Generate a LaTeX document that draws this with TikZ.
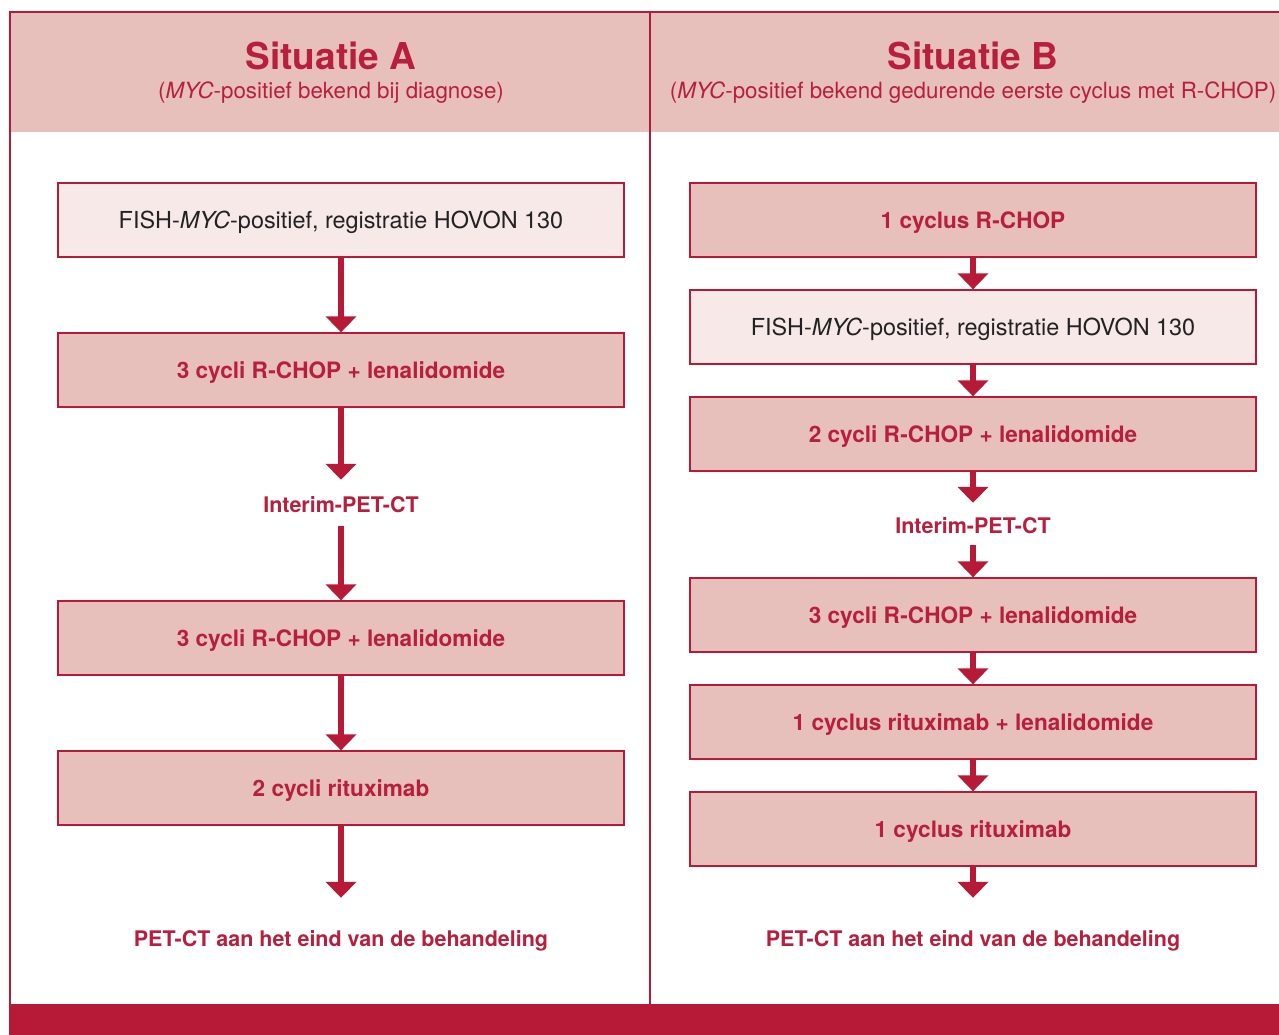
\documentclass[tikz,border=0pt]{standalone}
\usepackage{fontspec}
\setmainfont{TeX Gyre Heros}
\usetikzlibrary{arrows.meta}
\definecolor{crim}{HTML}{B71A36}
\definecolor{crimtext}{HTML}{B81F3E}
\definecolor{hdrfill}{HTML}{E7C0BB}
\definecolor{lightfill}{HTML}{F7E9E8}
\definecolor{dark}{HTML}{222222}
\tikzset{
  boxbase/.style={draw=crim, line width=1.3pt, minimum width=566pt, minimum height=74pt, inner sep=0pt, anchor=center, text depth=0pt},
  redbox/.style={boxbase, fill=hdrfill, text=crimtext, text height=16.2pt, font=\fontsize{22.6}{26}\selectfont\bfseries},
  lightbox/.style={boxbase, fill=lightfill, text=dark, text height=16.8pt, font=\fontsize{23.4}{27}\selectfont},
  label/.style={inner sep=0pt, text=crimtext, text height=19pt, text depth=0pt, font=\fontsize{21.5}{25}\selectfont\bfseries},
  flow/.style={draw=crim, line width=5.5pt, -{Triangle[width=30pt,length=16pt]}},
  title/.style={inner sep=0pt, text=crimtext, text height=26.5pt, text depth=0pt, font=\fontsize{37}{40}\selectfont\bfseries},
  subtitle/.style={inner sep=0pt, text=crimtext, text height=16.2pt, text depth=0pt, font=\fontsize{22.35}{26}\selectfont}
}
\begin{document}
\begin{tikzpicture}[x=1pt,y=-1pt]
\useasboundingbox (0,0) rectangle (1279,1035);
% header band
\fill[hdrfill] (10,12) rectangle (1285,132);
% bottom band
\fill[crim] (9,1004) rectangle (1285,1040);
% frame lines
\draw[crim, line width=2.5pt] (10,1004) -- (10,12) -- (1285,12);
\draw[crim, line width=2.5pt] (650,12) -- (650,1004);
% titles
\node[title] (tA) at (331,56) {Situatie A};
\node[subtitle] (sA) at (331,90) {(\textit{MYC}-positief bekend bij diagnose)};
\node[title] (tB) at (973,56) {Situatie B};
\node[subtitle] (sB) at (973,90) {(\textit{MYC}-positief bekend gedurende eerste cyclus met R-CHOP)};
% left column
\node[lightbox] (a1) at (341,220) {FISH-\textit{MYC}-positief, registratie HOVON 130};
\node[redbox] (a2) at (341,370) {3 cycli R-CHOP + lenalidomide};
\node[label, minimum height=46pt] (a3) at (341,503) {Interim-PET-CT};
\node[redbox] (a4) at (341,638) {3 cycli R-CHOP + lenalidomide};
\node[redbox] (a5) at (341,788) {2 cycli rituximab};
\node[label, minimum height=78pt] (a6) at (341,937) {PET-CT aan het eind van de behandeling};
\draw[flow] (a1.south) -- (a2.north);
\draw[flow] (a2.south) -- (a3.north);
\draw[flow] (a3.south) -- (a4.north);
\draw[flow] (a4.south) -- (a5.north);
\draw[flow] (a5.south) -- (a6.north);
% right column
\node[redbox] (b1) at (973,220) {1 cyclus R-CHOP};
\node[lightbox] (b2) at (973,327) {FISH-\textit{MYC}-positief, registratie HOVON 130};
\node[redbox] (b3) at (973,434) {2 cycli R-CHOP + lenalidomide};
\node[label, minimum height=42pt] (b4) at (973,524) {Interim-PET-CT};
\node[redbox] (b5) at (973,615) {3 cycli R-CHOP + lenalidomide};
\node[redbox] (b6) at (973,722) {1 cyclus rituximab + lenalidomide};
\node[redbox] (b7) at (973,829) {1 cyclus rituximab};
\node[label, minimum height=78pt] (b8) at (973,937) {PET-CT aan het eind van de behandeling};
\draw[flow] (b1.south) -- (b2.north);
\draw[flow] (b2.south) -- (b3.north);
\draw[flow] (b3.south) -- (b4.north);
\draw[flow] (b4.south) -- (b5.north);
\draw[flow] (b5.south) -- (b6.north);
\draw[flow] (b6.south) -- (b7.north);
\draw[flow] (b7.south) -- (b8.north);
\end{tikzpicture}
\end{document}
